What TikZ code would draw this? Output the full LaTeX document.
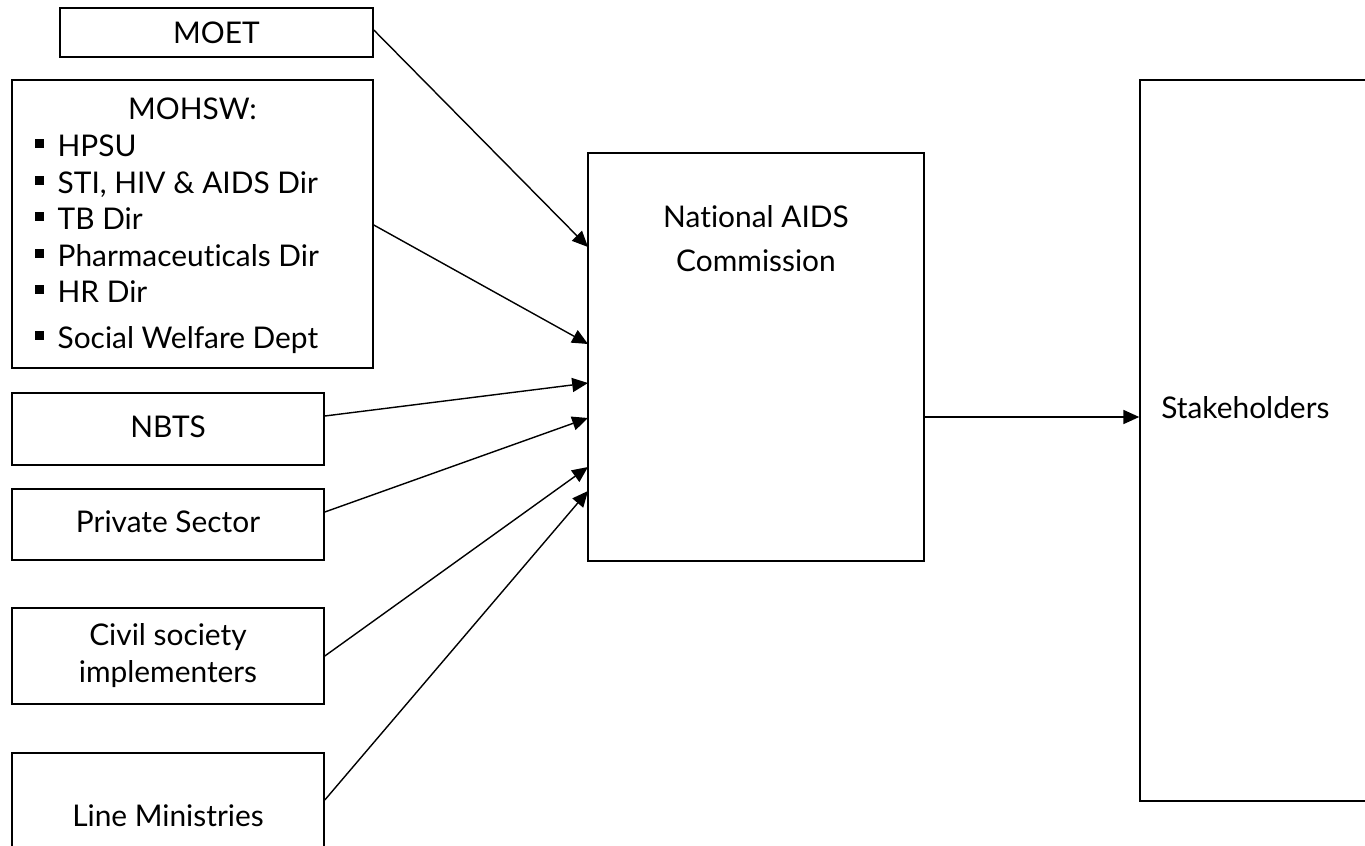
\documentclass[tikz,border=0pt]{standalone}
\usepackage{fontspec}
\setmainfont[Ligatures=NoCommon]{Lato}
\usetikzlibrary{arrows.meta, positioning, fit}

\tikzset{
  box/.style={draw, line width=0.9pt, inner sep=0pt},
  lbl/.style={anchor=base, inner sep=0pt, font=\fontsize{17}{20}\selectfont},
  item/.style={lbl, anchor=base west},
  feed/.style={-{Triangle[length=9pt,width=8pt]}, line width=0.8pt},
}
\newcommand{\sqbul}{\rule[4.5pt]{5.2pt}{5.2pt}\hspace{7.5pt}}

\begin{document}
\begin{tikzpicture}[x=0.02cm, y=-0.02cm]
\useasboundingbox (0,0) rectangle (1365,845);

% boxes
\node[box, fit={(60,8) (373,57)}] (moet) {};
\node[box, fit={(12,80) (373,368)}] (mohsw) {};
\node[box, fit={(12,393) (324,465)}] (nbts) {};
\node[box, fit={(12,489) (324,560)}] (priv) {};
\node[box, fit={(12,608) (324,704)}] (civil) {};
\node[box, fit={(12,753) (324,880)}] (line) {};
\node[box, fit={(588,153) (924,561)}] (nac) {};
\node[box, fit={(1140,80) (1450,801)}] (stake) {};

% labels
\node[lbl] (moet-t) at (216.5,43) {MOET};
\node[lbl] (mohsw-t) at (192.5,119) {MOHSW:};
\foreach \yy/\txt [count=\i] in {156/HPSU, 193/{STI, HIV \& AIDS Dir}, 229/TB Dir,
    266/Pharmaceuticals Dir, 302/HR Dir, 348/Social Welfare Dept}
  \node[item] (item\i) at (35,\yy) {\sqbul\txt};
\node[lbl] (nbts-t) at (168,437) {NBTS};
\node[lbl] (priv-t) at (168,532) {Private Sector};
\node[lbl] (civil-t1) at (168,645) {Civil society};
\node[lbl] (civil-t2) at (168,682) {implementers};
\node[lbl] (line-t) at (168,826) {Line Ministries};
\node[lbl] (nac-t1) at (756,227) {National AIDS};
\node[lbl] (nac-t2) at (756,271) {Commission};
\node[lbl, anchor=base west] (stake-t) at (1161,418) {Stakeholders};

% arrows into the commission
\coordinate (in1) at (588,247);
\coordinate (in2) at (588,344);
\coordinate (in3) at (588,383);
\coordinate (in4) at (588,418);
\coordinate (in5) at (588,467);
\coordinate (in6) at (588,491);
\draw[feed] ([yshift=0.05cm]moet.east) -- (in1);
\draw[feed] ([yshift=-0.02cm]mohsw.east) -- (in2);
\draw[feed] ([yshift=0.26cm]nbts.east) -- (in3);
\draw[feed] ([yshift=0.25cm]priv.east) -- (in4);
\draw[feed] (civil.east) -- (in5);
\draw[feed] ([yshift=0.33cm]line.east) -- (in6);

% out to stakeholders
\coordinate (out) at (924,417);
\draw[feed] (out) -- (out -| stake.west);
\end{tikzpicture}
\end{document}
